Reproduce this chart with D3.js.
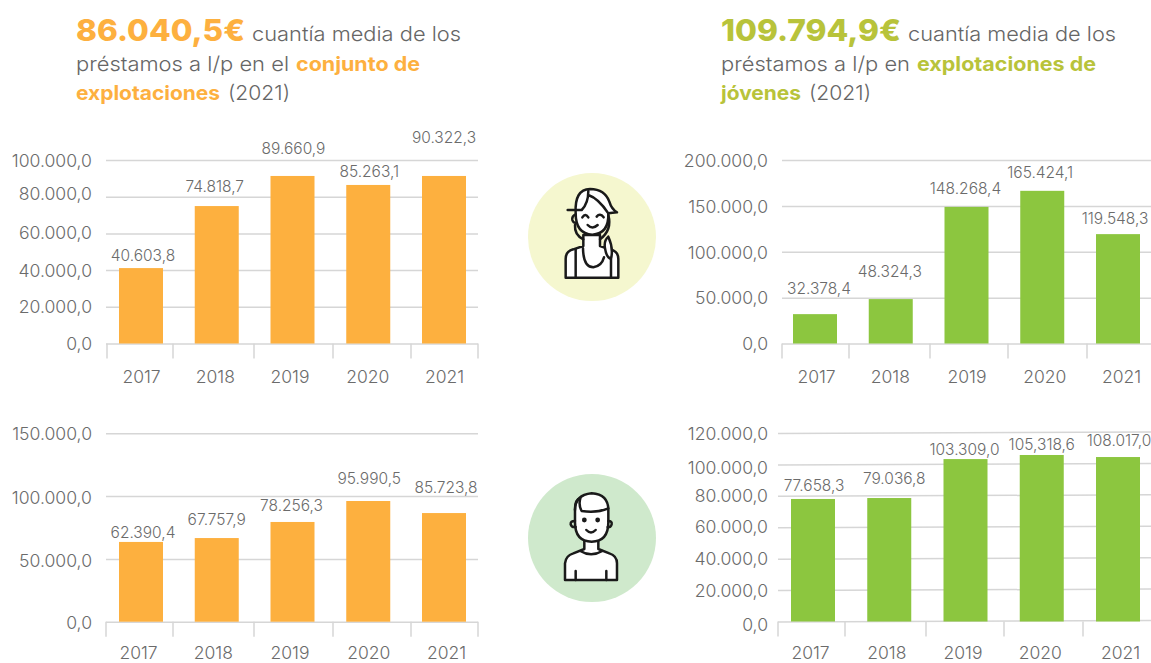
<!DOCTYPE html>
<html lang="es"><head><meta charset="utf-8">
<script src="https://cdn.jsdelivr.net/npm/d3@7"></script>
<style>
html,body{margin:0;padding:0;background:#fff}
svg{display:block}
text{font-family:Inter,"Open Sans",sans-serif;fill:#6b6b6b;font-weight:300}
</style></head><body>
<svg id="c" width="1151" height="663"></svg>
<script>
const years = ["2017","2018","2019","2020","2021"];
// bar heights
const barsGeneralWomen = [41100,74900,91300,86400,91300];
const barsYoungWomen   = [32000,48400,148900,166400,119200];
const barsGeneralMen   = [63500,66600,79400,96100,86500];
const barsYoungMen     = [78000,78600,103400,106000,104700];
// value labels as printed
const labelsGeneralWomen = ["40.603,8","74.818,7","89.660,9","85.263,1","90.322,3"];
const labelsYoungWomen   = ["32.378,4","48.324,3","148.268,4","165.424,1","119.548,3"];
const labelsGeneralMen   = ["62.390,4","67.757,9","78.256,3","95.990,5","85.723,8"];
const labelsYoungMen     = ["77.658,3","79.036,8","103.309,0","105,318,6","108.017,0"];
const ticksGeneralWomen = [0,20000,40000,60000,80000,100000];
const ticksYoungWomen   = [0,50000,100000,150000,200000];
const ticksGeneralMen   = [0,50000,100000,150000];
const ticksYoungMen     = [0,20000,40000,60000,80000,100000,120000];

const ORANGE="#fdb03f", GREEN="#8cc63f", GRID="#d6d6d6";
const es = d3.formatLocale({decimal:",",thousands:".",grouping:[3],currency:["","€"]});
const fmt = es.format(",.1f");
const svg = d3.select("#c");

const panels = [
 {bars:barsGeneralWomen,labels:labelsGeneralWomen,ticks:ticksGeneralWomen,color:ORANGE,max:100000,
  x0:106,x1:478,top:160,base:343.5,c0:141,c1:444,tickRight:92,yearBase:383,
  seps:[107,173,254,333,411,478],tdy:[0.5,0.5,0.5,-0.5,-3,0.5],
  ldx:[2,-2,1,1,0],ldy:[-7,-14,-22,-8,-33],ydx:[0,-2,-3,-1,0]},
 {bars:barsYoungWomen,labels:labelsYoungWomen,ticks:ticksYoungWomen,color:GREEN,max:200000,
  x0:782,x1:1151,top:160,base:343.5,c0:815,c1:1118,tickRight:768,yearBase:383,
  seps:[782,849,930,1008,1087],tdy:[0.5,0.5,1,0.5,1],
  ldx:[4,-1,-1,-2,-3],ldy:[-20,-22,-13,-13,-10],ydx:[1,-1,0,2,3]},
 {bars:barsGeneralMen,labels:labelsGeneralMen,ticks:ticksGeneralMen,color:ORANGE,max:150000,
  x0:106,x1:478,top:433.3,base:621.7,c0:141,c1:444,tickRight:92,yearBase:659,
  seps:[106,173,254,333,411,478],tdy:[1.5,1.5,1.5,0.5],
  ldx:[2,0,-1,1,2],ldy:[-4,-13,-11,-17,-20],ydx:[-3,-4,-3,0,2]},
 {bars:barsYoungMen,labels:labelsYoungMen,ticks:ticksYoungMen,color:GREEN,max:120000,
  x0:778,x1:1151,top:433,base:621.5,c0:813,c1:1118,tickRight:768,yearBase:659,tilt:-1.5,
  seps:[778,845,926,1004,1083],tdy:[3,1,0,0,0,3,0.5],
  ldx:[1,5,-1,0,1],ldy:[-8,-14,-4,-5,-11],ydx:[-3,-3,-3,-2,2]}
];

panels.forEach(p=>{
  const x = d3.scalePoint().domain(years).range([p.c0,p.c1]);
  const y = d3.scaleLinear().domain([0,p.max]).range([p.base,p.top]);
  const g = svg.append("g");
  const ya = g.append("g").attr("transform",`translate(${p.x0},0)`)
    .call(d3.axisLeft(y).tickValues(p.ticks).tickFormat(fmt).tickSize(-(p.x1-p.x0)).tickPadding(p.x0-p.tickRight));
  ya.select(".domain").remove();
  ya.selectAll("line").attr("stroke",GRID).attr("stroke-width",1.5).attr("y2",p.tilt||0);
  ya.selectAll("text").attr("font-size",17.6).attr("dy","0.32em").attr("y",(d,i)=>p.tdy[i]).style("fill","#6b6b6b");
  g.selectAll("line.sep").data(p.seps).join("line").attr("class","sep")
    .attr("x1",d=>d).attr("x2",d=>d).attr("y1",p.base).attr("y2",p.base+15)
    .attr("stroke",GRID).attr("stroke-width",1.5);
  const bw=44;
  g.selectAll("rect").data(p.bars).join("rect")
    .attr("x",(d,i)=>x(years[i])-bw/2).attr("width",bw)
    .attr("y",d=>y(d)).attr("height",d=>y(0)-y(d)).attr("fill",p.color);
  g.selectAll("text.val").data(p.labels).join("text").attr("class","val")
    .attr("text-anchor","middle").attr("font-size",15.5)
    .attr("x",(d,i)=>x(years[i])+p.ldx[i])
    .attr("y",(d,i)=>y(p.bars[i])+p.ldy[i]).text(d=>d);
  const xa = g.append("g").attr("transform",`translate(0,${p.yearBase})`)
    .call(d3.axisBottom(x).tickSize(0).tickPadding(0));
  xa.select(".domain").remove();
  xa.selectAll("text").attr("font-size",17.5).attr("y",0).attr("dy",0)
    .attr("dx",(d,i)=>p.ydx[i]).style("fill","#6b6b6b");
});

// headings
const GREY="#666", HO="#fdb03f", HG="#b8c33a";
const heads=[
 [76,41,169,"86.040,5€",30,HO,800],[252,41,209,"cuantía media de los",20,GREY,300],
 [76,71,213,"préstamos a l/p en el",20,GREY,300],[296,71,124,"conjunto de",20,HO,700],
 [76,100,144,"explotaciones",20,HO,700],[228,100,62,"(2021)",20,GREY,300],
 [721,41,180,"109.794,9€",30,HG,800],[908,41,208,"cuantía media de los",20,GREY,300],
 [721,71,189,"préstamos a l/p en",20,GREY,300],[917,71,179,"explotaciones de",20,HG,700],
 [721,100,80,"jóvenes",20,HG,700],[809,100,62,"(2021)",20,GREY,300]
];
svg.selectAll("text.h").data(heads).join("text").attr("class","h")
  .attr("x",d=>d[0]).attr("y",d=>d[1]).attr("textLength",d=>d[2]).attr("lengthAdjust","spacingAndGlyphs")
  .attr("font-size",d=>d[4]).style("fill",d=>d[5]).style("font-weight",d=>d[6]).text(d=>d[3]);

// icons (drawn in 3x crop units, scaled down)
svg.append("circle").attr("cx",592).attr("cy",237).attr("r",64).attr("fill","#f5f7cf");
svg.append("circle").attr("cx",592).attr("cy",538).attr("r",64).attr("fill","#cfe9cc");
const stroke={fill:"none",stroke:"#1a1a1a","stroke-width":7.5,"stroke-linecap":"round","stroke-linejoin":"round"};
function icon(ox,oy,items){
  const g=svg.append("g").attr("transform",`translate(${ox},${oy}) scale(0.3333)`);
  items.forEach(([d,fill])=>{
    const q=g.append("path").attr("d",d);
    Object.entries(stroke).forEach(([k,v])=>q.attr(k,v));
    if(fill)q.attr("fill",fill);
  });
}
icon(555,180,[
 ["M32 293 V236 Q32 214 55 208 L85 198 V165 H135 V198 L165 208 Q190 214 190 236 V293 Z","#fff"],
 ["M62 293 V208 M168 293 V238","#0000"],
 ["M84 205 Q85 262 115 262 Q140 258 147 232","#0000"],
 ["M62 100 Q58 28 105 27 Q150 28 163 65 Q170 88 186 97 L160 100 Q162 162 112 164 Q62 162 62 100 Z","#fff"],
 ["M38 90 H80 Q100 70 100 33 M100 45 Q130 55 160 100","#0000"],
 ["M62 103 Q50 108 52 120 Q55 130 64 128 M60 135 Q58 165 85 178","#0000"],
 ["M160 105 Q172 150 135 178","#0000"],
 ["M160 170 Q146 182 150 205 Q155 235 168 236 Q176 205 160 170 Z","#fff"],
 ["M82 112 Q91 98 100 112 M125 110 Q135 98 146 112 M98 135 Q112 150 128 135","#0000"]
]);
icon(555,485,[
 ["M30 285 V235 Q32 212 55 205 L88 192 V165 H130 V192 L163 205 Q186 212 186 235 V285 Z","#fff"],
 ["M62 285 V258 M154 285 V258 M76 198 Q108 218 142 198","#0000"],
 ["M60 112 V75 Q60 30 110 25 Q160 28 160 75 V112 Q160 170 110 170 Q60 170 60 112 Z","#fff"],
 ["M60 75 Q60 42 76 40 Q70 60 80 78 Q125 85 160 70","#0000"],
 ["M60 108 Q46 108 47 118 Q50 128 62 126 M160 108 Q172 108 170 118 Q168 128 158 126","#0000"],
 ["M94 135 Q108 150 122 135","#0000"]
]);
[[88,105],[128,105]].forEach(([a,b])=>svg.append("circle").attr("cx",555+a/3).attr("cy",485+b/3).attr("r",2.4).attr("fill","#1a1a1a"));
</script></body></html>
